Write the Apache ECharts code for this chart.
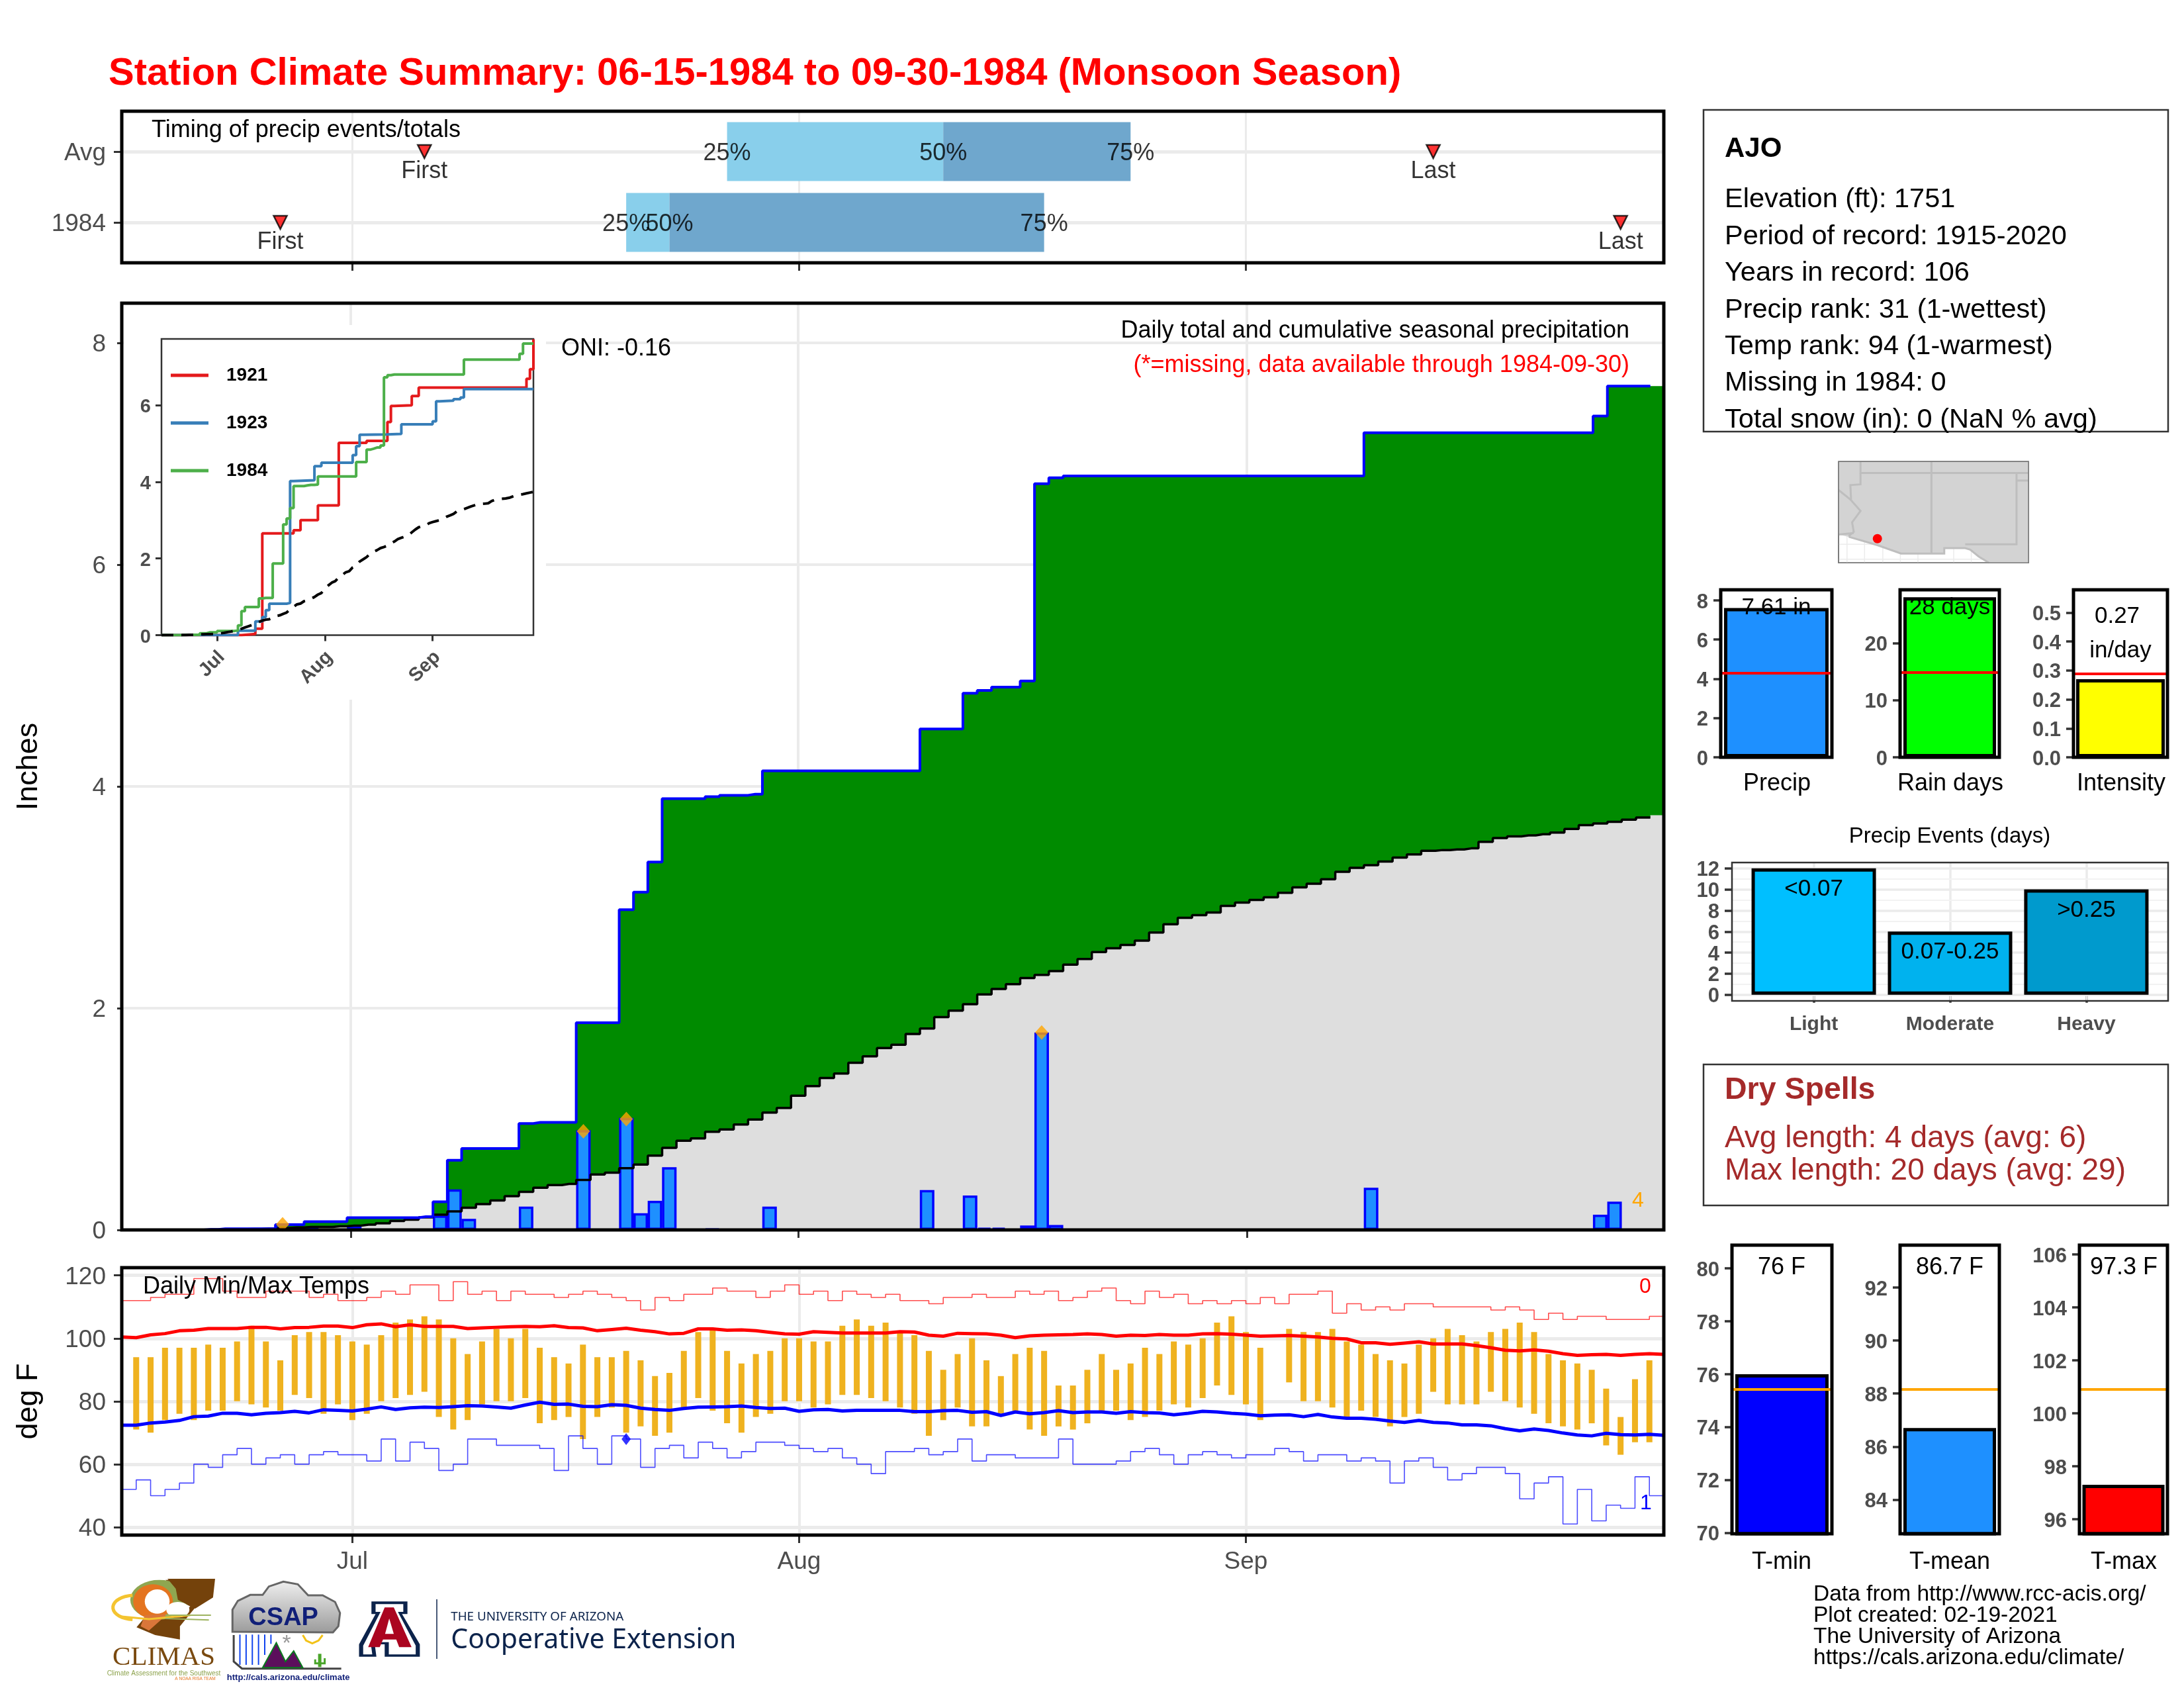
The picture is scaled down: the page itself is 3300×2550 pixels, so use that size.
<!DOCTYPE html>
<html>
<head>
<meta charset="utf-8">
<title>Station Climate Summary</title>
<script src="https://cdn.jsdelivr.net/npm/echarts@6/dist/echarts.min.js"></script>
<style>
html, body { margin: 0; padding: 0; background: #fff; }
#chart { width: 3300px; height: 2550px; }
</style>
</head>
<body>
<div id="chart"></div>
<script>
// days are counted from Jun 15 (day 0) to Sep 30 (day 107)
const monthDays = [16, 47, 78]
const monthNames = { 16: 'Jul', 47: 'Aug', 78: 'Sep' }
// the precip panel has its bars on a slightly different scale than its ticks
const mainTicks = [15.76, 47, 78.32]
const mainMin = -0.23
const mainMax = 107.44

// cumulative precip, 1984 and average
const cumPrecip = [
  0,0,0,0,0,0,.005,.01,.01,.01,
  .01,.048,.048,.075,.075,.075,.11,.11,.11,.11,
  .11,.12,.254,.628,.735,.735,.735,.735,.96,.97,
  .97,.97,1.868,1.868,1.868,2.888,3.046,3.318,3.89,3.89,
  3.89,3.907,3.92,3.92,3.93,4.14,4.14,4.14,4.14,4.14,
  4.14,4.14,4.14,4.14,4.14,4.14,4.518,4.518,4.518,4.84,
  4.865,4.895,4.895,4.95,6.73,6.784,6.8,6.8,6.8,6.8,
  6.8,6.8,6.8,6.8,6.8,6.8,6.8,6.8,6.8,6.8,
  6.8,6.8,6.8,6.8,6.8,6.8,6.8,7.19,7.19,7.19,
  7.19,7.19,7.19,7.19,7.19,7.19,7.19,7.19,7.19,7.19,
  7.19,7.19,7.19,7.34,7.61,7.61,7.61,7.61
]
const avgPrecip = [
  0,0,0,0,0,0,.003,.005,.007,.009,
  .012,.018,.022,.027,.027,.033,.039,.048,.06,.08,
  .093,.113,.137,.167,.2,.233,.266,.305,.344,.38,
  .404,.415,.45,.5,.517,.556,.59,.67,.74,.804,
  .825,.885,.906,.95,.995,1.058,1.1,1.21,1.297,1.37,
  1.41,1.507,1.566,1.64,1.67,1.767,1.816,1.919,1.977,2.036,
  2.124,2.173,2.217,2.271,2.3,2.335,2.393,2.443,2.506,2.54,
  2.57,2.609,2.682,2.756,2.815,2.839,2.863,2.922,2.952,2.976,
  3.0,3.04,3.089,3.123,3.162,3.23,3.265,3.289,3.323,3.358,
  3.387,3.42,3.426,3.431,3.441,3.5,3.534,3.549,3.558,3.568,
  3.583,3.617,3.651,3.666,3.68,3.7,3.72,3.74
]
// daily precip bars
const rainDays = [11,13,16,22,23,24,28,32,35,36,37,38,41,45,56,59,60,61,63,64,65,87,103,104]
const rainVals = [.03,.03,.035,.13,.365,.1,.21,.9,1.01,.15,.263,.565,.01,.21,.36,.31,.02,.02,.04,1.78,.045,.38,.137,.255]
const bigDays = [11,32,35,64]
const bigVals = [.05,.89,1.0,1.78]

// other years in the inset, [day, inches] at each step
const steps1921 = [[0,0],[23,.03],[27,.17],[29,2.655],[38,2.74],[40,3.0],[45,3.385],[51,5.02],[59,5.07],[65,5.56],[66,5.98],[67,6.0],[72,6.24],[74,6.46],[105,6.69],[106,6.94],[107,7.72]]
const steps1923 = [[0,0],[22,.115],[27,.36],[29,.47],[30,.65],[31,.82],[36,.84],[37,4.02],[38,4.04],[44,4.41],[46,4.5],[55,4.7],[56,4.93],[57,5.23],[58,5.24],[65,5.25],[69,5.5],[78,5.58],[79,6.1],[80,6.12],[84,6.16],[86,6.2],[87,6.42],[107,6.42]]

// timing panel
const timingRows = [2, 1]
const q25Days = [42, 35]
const q50Days = [57, 38]
const q75Days = [70, 64]
const firstDays = [21, 11]
const lastDays = [91, 104]

// daily temps
const tMaxDaily = [
  null,94,94,97,97,97,98,97,99,104,
  99,93,101,102,102,101,99,98,101,105,
  106,107,106,100,95,99,103,100,103,97,
  94,92,98,94,94,96,93,88,89,96,
  102,103,96,92,95,96,100,100,99,99,
  104,106,104,105,102,101,96,90,95,100,
  93,88,95,97,96,85,85,90,95,90,
  92,97,95,99,98,100,105,107,102,97,
  null,103,102,102,103,99,98,95,93,92,
  98,100,103,101,99,102,103,105,102,95,
  93,92,90,84,75,87,93,null
]
const tMinDaily = [
  null,71,70,74,76,74,77,77,80,79,
  78,77,82,81,76,79,74,76,80,81,
  82,83,75,71,74,79,80,80,81,73,
  74,75,68,75,78,70,72,69,70,78,
  81,77,73,70,75,76,80,80,78,79,
  82,82,81,80,78,76,69,74,78,72,
  72,76,77,71,69,72,71,73,77,77,
  74,75,77,79,78,81,85,82,79,74,
  null,86,80,80,78,75,77,75,72,75,
  76,83,79,79,79,83,80,78,76,73,
  72,71,73,66,63,67,67,null
]
const avgTmax = [
  100.4,100.2,101.1,101.5,102.4,102.6,103.1,103.1,103.1,103.5,
  103.5,103,103.4,103.5,103.9,103.9,103.4,104.3,104.6,103.7,
  104.3,103.8,103.8,103.8,103.1,103.3,103.5,103.7,103.8,103.7,
  104,103.4,103.3,102.4,102.8,103.2,102.6,102.1,101.4,101.6,
  103,103,102.6,102.7,102.4,101.9,101.4,101.3,102.1,101.9,
  101.7,101.7,101.7,101.7,102.1,102,101,100.7,101.6,101.5,
  101.4,101,100.2,100.8,101,101.1,101.2,101.4,101.2,100.7,
  101,100.9,101.2,101,101,101.4,101.5,101.3,101,100.7,
  100.8,100.9,100.7,100.4,100,99.8,98.6,98.6,98.1,98.5,
  98.9,98.2,98.2,98.2,97.7,97,96.2,96,96.3,95.9,
  95.1,94.6,94.8,94.9,94.6,94.9,95.1,94.9
]
const avgTmin = [
  72.4,72.4,73.1,73.4,73.9,75.1,75.3,76.2,76.2,75.7,
  76.2,76.4,76.8,76.3,77.3,77.1,76.9,77.5,78.2,77.4,
  77.9,78.1,78,78.3,78.6,78.5,78.2,77.8,78.8,79.7,
  79,79.1,78.4,78.3,78.9,78.7,77.8,77.4,77.1,77.7,
  78.1,78.2,78.3,78.5,78,77.7,77.8,76.8,77.3,77.4,
  76.9,77.1,77.1,77.1,77.1,76.7,76.7,77,77.1,76.5,
  76.7,75.5,76.6,76,76.4,77,76.4,76.6,76.6,76.2,
  76.7,76.4,76.3,75.7,76.2,76.8,76.6,76.2,75.9,75.4,
  75.6,75.7,75.1,75.8,75,74.6,74.6,74.3,73.7,73.3,
  73.9,73.3,73.1,72.5,72.5,72.2,71.3,70.6,71.2,70.7,
  69.9,69.3,69,69.8,69.4,69.3,69.5,69.2
]
const recMax = [
  112,112,113,114,114,119,119,115,113,113,
  115,115,115,113,114,112,112,113,115,114,
  117,117,112,118,114,115,112,115,114,114,
  113,114,115,114,113,112,109,113,112,114,
  114,116,115,115,113,115,117,114,115,112,
  115,114,113,114,112,112,111,113,113,114,
  113,113,115,114,115,112,113,115,116,112,
  111,115,113,114,111,112,111,112,111,113,
  111,114,114,115,108,111,109,110,109,111,
  111,110,110,110,110,109,110,109,106,108,
  106,107,107,106,106,106,107,107
]
const recMin = [
  52,55,50,52,54,60,59,63,65,60,
  62,63,60,63,64,63,63,61,68,61,
  67,65,58,60,68,68,66,66,66,65,
  58,69,65,60,69,68,59,65,66,62,
  67,65,62,64,67,67,66,65,64,65,
  62,60,57,64,64,65,63,64,68,61,
  63,63,62,62,62,68,60,60,60,61,
  64,65,63,60,63,64,63,62,63,63,
  65,64,61,63,63,61,62,61,54,61,
  62,59,55,57,59,59,57,49,54,56,
  41,52,42,47,46,56,50,50
]

// right side panels
const eventNames = ['Light', 'Moderate', 'Heavy']
const eventVals = [12, 6, 10]
const eventLabels = ['<0.07', '0.07-0.25', '>0.25']
const eventColors = ['#00bfff', '#00b2ee', '#009acd']
const summaryVals = [7.61, 28, 0.27]
const summaryAvgs = [4.31, 14.8, 0.292]
const summaryColors = ['#1e90ff', '#00ff00', '#ffff00']
const tempVals = [76, 86.7, 97.3]
const tempAvgs = [75.43, 88.17, 100.9]
const tempColors = ['#0000ff', '#1e90ff', '#ff0000']

const infoLines = ['Elevation (ft): 1751', 'Period of record: 1915-2020', 'Years in record: 106', 'Precip rank: 31 (1-wettest)', 'Temp rank: 94 (1-warmest)', 'Missing in 1984: 0', 'Total snow (in): 0 (NaN % avg)']
const footerLines = ['Data from http://www.rcc-acis.org/', 'Plot created: 02-19-2021', 'The University of Arizona', 'https://cals.arizona.edu/climate/']

const FONT = '"Liberation Sans"'
const GRAY = '#4d4d4d'
const pairs = vals => vals.map((v, i) => [i, v])
// y labels sit a little under their tick, padding only moves text when it isn't middle aligned
const nudge = (size, d) => ({ verticalAlign: 'bottom', padding: [0, 0, -(size / 2 + d), 0] })

const grids = [], xAxes = [], yAxes = [], series = [], graphics = []

function addGrid(g) { grids.push(Object.assign({ containLabel: false, show: true, backgroundColor: 'transparent', borderColor: '#000', borderWidth: 5, z: 6 }, g)); return grids.length - 1 }

function gridLines(idx, key, vals, width, color) {
  series.push({
    type: 'line', xAxisIndex: idx, yAxisIndex: idx, data: [], silent: true, z: 1,
    markLine: {
      z: 1, silent: true, symbol: 'none', animation: false, label: { show: false },
      lineStyle: { color: color || '#ebebeb', width: width || 3.5, type: 'solid' },
      data: vals.map(v => ({ [key]: v }))
    }
  })
}

function dayAxis(idx, showLabel, ticks, min, max) {
  xAxes.push({
    gridIndex: idx, type: 'value', min: min === undefined ? 0 : min, max: max === undefined ? 107 : max, splitLine: { show: false }, axisLine: { show: false },
    axisTick: { show: true, length: 12, lineStyle: { color: '#333', width: 3 }, customValues: ticks || monthDays },
    axisLabel: { show: showLabel, customValues: ticks || monthDays, formatter: v => monthNames[v], fontSize: 37, color: GRAY, margin: 22 }
  })
}

function valueAxis(idx, min, max, ticks, extra) {
  yAxes.push(Object.assign({
    gridIndex: idx, type: 'value', min, max, splitLine: { show: false }, axisLine: { show: false },
    axisTick: { show: true, length: 12, lineStyle: { color: '#333', width: 3 }, customValues: ticks },
    axisLabel: Object.assign({ customValues: ticks, fontSize: 37, color: GRAY, margin: 24 }, nudge(37, 3))
  }, extra))
}

function txt(text, x, y, size, opts) {
  opts = opts || {}
  graphics.push({
    type: 'text', z: 30, x: x, y: y + 3, silent: true,
    style: { text, fill: opts.color || '#000', font: (opts.weight || 'normal') + ' ' + size + 'px ' + (opts.family || FONT), align: opts.align || 'left', verticalAlign: 'middle' }
  })
}

function box(x, y, w, h) {
  graphics.push({ type: 'rect', z: 29, silent: true, shape: { x, y, width: w, height: h }, style: { fill: 'transparent', stroke: '#333', lineWidth: 2.5 } })
}

// ---------- timing panel
const timingGrid = addGrid({ left: 184, top: 168, width: 2330, height: 229 })
dayAxis(timingGrid, false)
valueAxis(timingGrid, 0.43, 2.57, timingRows, { axisLabel: Object.assign({ customValues: timingRows, formatter: v => v === 2 ? 'Avg' : '1984', fontSize: 37, color: GRAY, margin: 24 }, nudge(37, 3)) })
gridLines(timingGrid, 'xAxis', monthDays, 3)
gridLines(timingGrid, 'yAxis', timingRows, 5)
function quantileBars(from, to, color) {
  series.push({
    type: 'custom', xAxisIndex: timingGrid, yAxisIndex: timingGrid, z: 2, silent: true,
    encode: { x: [0, 1], y: 2 },
    data: timingRows.map((r, i) => [from[i], to[i], r]),
    renderItem(params, api) {
      const a = api.coord([api.value(0), api.value(2)])
      const b = api.coord([api.value(1), api.value(2)])
      const h = api.size([0, 0.83])[1]
      return { type: 'rect', shape: { x: a[0], y: a[1] - h / 2, width: b[0] - a[0], height: h }, style: { fill: color } }
    }
  })
}
quantileBars(q25Days, q50Days, '#89cfeb')
quantileBars(q50Days, q75Days, '#6fa7cd')
function timingLabels(days, name) {
  series.push({
    type: 'scatter', xAxisIndex: timingGrid, yAxisIndex: timingGrid, z: 4, symbolSize: 1, itemStyle: { color: 'transparent' }, silent: true,
    data: timingRows.map((r, i) => [days[i], r]),
    label: { show: true, position: 'inside', formatter: name, fontSize: 36, color: '#000', offset: [0, 3] }
  })
}
timingLabels(q25Days, '25%')
timingLabels(q50Days, '50%')
timingLabels(q75Days, '75%')
function timingMarks(days, name) {
  series.push({
    type: 'scatter', xAxisIndex: timingGrid, yAxisIndex: timingGrid, z: 4, symbol: 'triangle', symbolRotate: 180, symbolSize: [20, 20], silent: true,
    itemStyle: { color: '#ff0000', borderColor: '#000', borderWidth: 2.5 },
    data: timingRows.map((r, i) => [days[i], r]),
    label: { show: true, position: 'bottom', distance: 1, formatter: name, fontSize: 36, color: '#000' }
  })
}
timingMarks(firstDays, 'First')
timingMarks(lastDays, 'Last')

// ---------- main precip panel
const mainGrid = addGrid({ left: 184, top: 458, width: 2330, height: 1400 })
dayAxis(mainGrid, false, mainTicks, mainMin, mainMax)
valueAxis(mainGrid, 0, 8.358, [0, 2, 4, 6, 8], { name: 'Inches', nameLocation: 'middle', nameGap: 118, nameTextStyle: { fontSize: 45, color: '#000' } })
gridLines(mainGrid, 'xAxis', mainTicks, 4)
gridLines(mainGrid, 'yAxis', [2, 4, 6, 8], 4)
const toEdges = vals => [[mainMin, vals[0]]].concat(pairs(vals), [[mainMax, vals[107]]])
const toLineEnd = vals => pairs(vals).slice(0, 107).concat([[106.5, vals[106]]])
series.push({
  type: 'line', name: 'cumArea', xAxisIndex: mainGrid, yAxisIndex: mainGrid, z: 2, step: 'middle', showSymbol: false, silent: true,
  data: toEdges(cumPrecip), lineStyle: { width: 0 }, areaStyle: { color: '#008b00', opacity: 1 }
})
series.push({
  type: 'line', name: 'avgArea', xAxisIndex: mainGrid, yAxisIndex: mainGrid, z: 2, step: 'middle', showSymbol: false, silent: true,
  data: toEdges(avgPrecip), lineStyle: { width: 0 }, areaStyle: { color: '#dedede', opacity: 1 }
})
series.push({
  type: 'line', name: 'avgLine', xAxisIndex: mainGrid, yAxisIndex: mainGrid, z: 3, step: 'middle', showSymbol: false, silent: true,
  data: toLineEnd(avgPrecip), lineStyle: { color: '#000', width: 3.5 }
})
series.push({
  type: 'bar', xAxisIndex: mainGrid, yAxisIndex: mainGrid, z: 3, barWidth: 22, silent: true,
  data: rainDays.map((d, i) => [d, rainVals[i]]),
  itemStyle: { color: '#1e90ff', borderColor: '#0000ff', borderWidth: 3.5 }
})
series.push({
  type: 'line', name: 'cumLine', xAxisIndex: mainGrid, yAxisIndex: mainGrid, z: 4, step: 'middle', showSymbol: false, silent: true,
  data: toLineEnd(cumPrecip), lineStyle: { color: '#0000ff', width: 4 }
})
series.push({
  type: 'scatter', xAxisIndex: mainGrid, yAxisIndex: mainGrid, z: 5, symbol: 'diamond', symbolSize: [20, 22], silent: true,
  data: bigDays.map((d, i) => [d, bigVals[i]]), itemStyle: { color: '#ffa500' }
})

// white patch behind the inset
graphics.push({ type: 'rect', z: 10, silent: true, shape: { x: 187, y: 491, width: 638, height: 566 }, style: { fill: '#fff' } })

// ---------- inset
const insetGrid = addGrid({ left: 244, top: 512, width: 562, height: 447.5, borderColor: '#333', borderWidth: 2.5, z: 11 })
xAxes.push({
  gridIndex: insetGrid, type: 'value', min: 0, max: 107, z: 12, splitLine: { show: false }, axisLine: { show: false },
  axisTick: { show: true, length: 9, lineStyle: { color: '#333', width: 3 }, customValues: monthDays },
  axisLabel: { customValues: monthDays, formatter: v => monthNames[v], rotate: 45, fontSize: 29, fontWeight: 'bold', color: GRAY, margin: 36, padding: [0, -10, 0, 0] }
})
valueAxis(insetGrid, 0, 7.73, [0, 2, 4, 6], {
  z: 12,
  axisTick: { show: true, length: 9, lineStyle: { color: '#333', width: 3 }, customValues: [0, 2, 4, 6] },
  axisLabel: Object.assign({ customValues: [0, 2, 4, 6], fontSize: 29, fontWeight: 'bold', color: GRAY, margin: 16 }, nudge(29, 3))
})
function insetLine(name, data, color) {
  series.push({ type: 'line', name, xAxisIndex: insetGrid, yAxisIndex: insetGrid, z: 13, step: 'end', showSymbol: false, silent: true, data, lineStyle: { color, width: 4 }, itemStyle: { color } })
}
insetLine('1921', steps1921, '#e41a1c')
insetLine('1923', steps1923, '#377eb8')
insetLine('1984', pairs(cumPrecip), '#4daf4a')
series.push({
  type: 'line', name: 'insetAvg', xAxisIndex: insetGrid, yAxisIndex: insetGrid, z: 14, showSymbol: false, silent: true,
  data: pairs(avgPrecip), lineStyle: { color: '#000', width: 4, type: [18, 12] }
})

// ---------- temps panel
const tempsGrid = addGrid({ left: 184, top: 1915, width: 2330, height: 404 })
dayAxis(tempsGrid, true)
valueAxis(tempsGrid, 37.47, 122.46, [40, 60, 80, 100, 120], { name: 'deg F', nameLocation: 'middle', nameGap: 118, nameTextStyle: { fontSize: 45, color: '#000' } })
gridLines(tempsGrid, 'xAxis', monthDays, 4)
gridLines(tempsGrid, 'yAxis', [40, 60, 80, 100, 120], 5)
series.push({
  type: 'custom', xAxisIndex: tempsGrid, yAxisIndex: tempsGrid, z: 2, silent: true,
  encode: { x: 0, y: [1, 2] },
  data: tMaxDaily.map((v, i) => [i, tMinDaily[i], v]).filter(r => r[2] !== null),
  renderItem(params, api) {
    const a = api.coord([api.value(0), api.value(1)])
    const b = api.coord([api.value(0), api.value(2)])
    return { type: 'rect', shape: { x: a[0] - 4.5, y: b[1], width: 9, height: a[1] - b[1] }, style: { fill: '#efb21f' } }
  }
})
function tempLine(vals, color, width, step, opacity) {
  series.push({ type: 'line', xAxisIndex: tempsGrid, yAxisIndex: tempsGrid, z: 3, step, showSymbol: false, silent: true, data: pairs(vals), lineStyle: { color, width, opacity } })
}
tempLine(recMax, '#ff0000', 1.6, 'end', 0.7)
tempLine(recMin, '#0000ff', 1.6, 'end', 0.7)
tempLine(avgTmax, '#ff0000', 5, false, 1)
tempLine(avgTmin, '#0000ff', 5, false, 1)
series.push({
  type: 'scatter', xAxisIndex: tempsGrid, yAxisIndex: tempsGrid, z: 5, symbol: 'diamond', symbolSize: [14, 18], silent: true,
  data: [[35, 68]], itemStyle: { color: '#0000ff' }
})

// ---------- small summary bars
function miniBar(g, min, max, ticks, val, avg, color, barW, avgColor) {
  const idx = addGrid(g)
  xAxes.push({ gridIndex: idx, type: 'category', data: [''], axisLine: { show: false }, axisTick: { show: false }, axisLabel: { show: false } })
  valueAxis(idx, min, max, ticks, {
    axisTick: { show: true, length: 11, lineStyle: { color: '#333', width: 3.5 }, customValues: ticks },
    axisLabel: Object.assign({ customValues: ticks, fontSize: 31, fontWeight: 'bold', color: GRAY, margin: 19, formatter: v => g.fixed ? v.toFixed(1) : String(v) }, nudge(31, 3))
  })
  series.push({
    type: 'bar', xAxisIndex: idx, yAxisIndex: idx, z: 3, barWidth: barW, silent: true, data: [val],
    itemStyle: { color, borderColor: '#000', borderWidth: 5 },
    markLine: { z: 5, silent: true, symbol: 'none', animation: false, label: { show: false }, lineStyle: { color: avgColor, width: 4, type: 'solid' }, data: [{ yAxis: avg }] }
  })
}
miniBar({ left: 2600, top: 891, width: 168, height: 253 }, 0, 8.54, [0, 2, 4, 6, 8], summaryVals[0], summaryAvgs[0], summaryColors[0], 158, '#ff0000')
miniBar({ left: 2871, top: 891, width: 150, height: 253 }, 0, 29.3, [0, 10, 20], summaryVals[1], summaryAvgs[1], summaryColors[1], 140, '#ff0000')
miniBar({ left: 3133, top: 891, width: 142, height: 253, fixed: true }, 0, 0.579, [0, .1, .2, .3, .4, .5], summaryVals[2], summaryAvgs[2], summaryColors[2], 134, '#ff0000')
miniBar({ left: 2617, top: 1881, width: 151, height: 436 }, 69.97, 80.88, [70, 72, 74, 76, 78, 80], tempVals[0], tempAvgs[0], tempColors[0], 141, '#ffa500')
miniBar({ left: 2871, top: 1881, width: 150, height: 436 }, 82.71, 93.6, [84, 86, 88, 90, 92], tempVals[1], tempAvgs[1], tempColors[1], 140, '#ffa500')
miniBar({ left: 3142, top: 1881, width: 133, height: 436 }, 95.45, 106.35, [96, 98, 100, 102, 104, 106], tempVals[2], tempAvgs[2], tempColors[2], 124, '#ffa500')

// ---------- precip events
const evGrid = addGrid({ left: 2617, top: 1303, width: 659, height: 209, borderColor: '#333', borderWidth: 2.5 })
xAxes.push({
  gridIndex: evGrid, type: 'value', min: 0.4, max: 3.6, splitLine: { show: false }, axisLine: { show: false },
  axisTick: { show: true, length: 12, lineStyle: { color: '#333', width: 3.5 }, customValues: [1, 2, 3] },
  axisLabel: { customValues: [1, 2, 3], formatter: v => eventNames[v - 1], fontSize: 30, fontWeight: 'bold', color: GRAY, margin: 21 }
})
valueAxis(evGrid, -0.58, 12.55, [0, 2, 4, 6, 8, 10, 12], {
  axisTick: { show: true, length: 11, lineStyle: { color: '#333', width: 3.5 }, customValues: [0, 2, 4, 6, 8, 10, 12] },
  axisLabel: Object.assign({ customValues: [0, 2, 4, 6, 8, 10, 12], fontSize: 31, fontWeight: 'bold', color: GRAY, margin: 19 }, nudge(31, 3))
})
gridLines(evGrid, 'xAxis', [1, 2, 3], 3.5)
gridLines(evGrid, 'yAxis', [0, 2, 4, 6, 8, 10, 12], 3.5)
gridLines(evGrid, 'yAxis', [1, 3, 5, 7, 9, 11], 2, '#f2f2f2')
series.push({
  type: 'bar', xAxisIndex: evGrid, yAxisIndex: evGrid, z: 3, barWidth: 188, silent: true,
  data: eventVals.map((v, i) => ({ value: [i + 1, v], itemStyle: { color: eventColors[i] }, label: { formatter: eventLabels[i] } })),
  itemStyle: { borderColor: '#000', borderWidth: 5 },
  label: { show: true, position: 'insideTop', distance: 14, fontSize: 35, color: '#000' }
})

// ---------- legend for inset is set in the option below, now the plain text
txt('Station Climate Summary: 06-15-1984 to 09-30-1984 (Monsoon Season)', 164, 109, 58, { weight: 'bold', color: '#ff0000' })
txt('Timing of precip events/totals', 229, 194, 36)
txt('Daily total and cumulative seasonal precipitation', 2462, 497, 36, { align: 'right' })
txt('(*=missing, data available through 1984-09-30)', 2462, 549, 36, { align: 'right', color: '#ff0000' })
txt('ONI: -0.16', 848, 524, 36)
txt('4', 2475, 1811, 32, { color: '#ffa500', align: 'center' })
txt('Daily Min/Max Temps', 216, 1941, 36)
txt('0', 2486, 1941, 32, { color: '#ff0000', align: 'center' })
txt('1', 2487, 2268, 32, { color: '#0000ff', align: 'center' })

box(2574, 166, 702, 486)
txt('AJO', 2606, 222, 42, { weight: 'bold' })
infoLines.forEach((l, i) => txt(l, 2606, 299 + i * 55.4, 41.5))

txt('7.61 in', 2684, 915, 35, { align: 'center' })
txt('28 days', 2946, 915, 35, { align: 'center' })
txt('0.27', 3199, 928, 35, { align: 'center' })
txt('in/day', 3204, 980, 35, { align: 'center' })
txt('Precip', 2685, 1181, 36, { align: 'center' })
txt('Rain days', 2947, 1181, 36, { align: 'center' })
txt('Intensity', 3205, 1181, 36, { align: 'center' })
txt('Precip Events (days)', 2946, 1261, 33, { align: 'center' })

box(2574, 1608, 702, 213)
txt('Dry Spells', 2606, 1644, 46.5, { weight: 'bold', color: '#a52a2a' })
txt('Avg length: 4 days (avg: 6)', 2606, 1717, 46, { color: '#a52a2a' })
txt('Max length: 20 days (avg: 29)', 2606, 1766, 46, { color: '#a52a2a' })

txt('76 F', 2692, 1912, 36, { align: 'center' })
txt('86.7 F', 2946, 1912, 36, { align: 'center' })
txt('97.3 F', 3209, 1912, 36, { align: 'center' })
txt('T-min', 2692, 2357, 36, { align: 'center' })
txt('T-mean', 2946, 2357, 36, { align: 'center' })
txt('T-max', 3209, 2357, 36, { align: 'center' })
footerLines.forEach((l, i) => txt(l, 2740, 2406 + i * 31.8, 33.5))

// ---------- locator map, drawn on the 3x crop scale
const mx = v => 2500 + v / 1.96
const my = v => 680 + v / 1.742
function shape(type, pts, style, z) {
  graphics.push({ type, z: z || 25, silent: true, shape: { points: pts.map(p => [mx(p[0]), my(p[1])]) }, style })
}
graphics.push({ type: 'rect', z: 24, silent: true, shape: { x: mx(545), y: my(30), width: 287, height: 153 }, style: { fill: '#fff', stroke: '#666', lineWidth: 1.5 } })
;[570, 622, 676, 728, 780, 886, 938].forEach(v => shape('polyline', [[v, 225], [v, 296]], { stroke: '#ececec', lineWidth: 1.5, fill: null }))
;[248, 287].forEach(v => shape('polyline', [[545, v], [1108, v]], { stroke: '#ececec', lineWidth: 1.5, fill: null }))
shape('polygon', [[545, 30], [1108, 30], [1108, 296], [990, 296], [960, 280], [935, 262], [920, 258], [858, 258], [858, 272], [730, 272], [660, 250], [575, 228], [545, 222]], { fill: '#d3d3d3' }, 26)
const stateLines = [
  [[610, 30], [610, 60], [1108, 60]], [[820, 30], [820, 272]], [[1072, 60], [1072, 248], [920, 248]], [[1072, 80], [1108, 80]],
  [[545, 105], [580, 130], [610, 160], [585, 190], [590, 215], [575, 226]], [[610, 60], [610, 90], [580, 92], [582, 130]],
  [[575, 228], [660, 250], [730, 272], [858, 272], [858, 258], [920, 258], [935, 262], [960, 280], [990, 296]], [[545, 222], [590, 218]]
]
stateLines.forEach(l => shape('polyline', l, { stroke: '#bebebe', lineWidth: 3, fill: null }, 27))
graphics.push({ type: 'rect', z: 27, silent: true, shape: { x: mx(545), y: my(30), width: 287, height: 153 }, style: { fill: 'transparent', stroke: '#777', lineWidth: 1.5 } })
graphics.push({ type: 'circle', z: 28, silent: true, shape: { cx: mx(660), cy: my(233), r: 7 }, style: { fill: '#ff0000' } })

// ---------- logos, drawn on the 3x crop scale
const lx = v => 150 + v / 1.6
const ly = v => 2360 + v / 3
function logo(type, pts, style) {
  graphics.push({ type, z: 25, silent: true, shape: { points: pts.map(p => [lx(p[0]), ly(p[1])]) }, style })
}
function oval(cx, cy, rx, ry, from, to) {
  const pts = []
  for (let a = from || 0; a <= (to === undefined ? 360 : to); a += 10) pts.push([cx + rx * Math.cos(a * Math.PI / 180), cy + ry * Math.sin(a * Math.PI / 180)])
  return pts
}
// CLIMAS
logo('polygon', [[160, 80], [275, 80], [270, 160], [230, 210], [195, 290], [195, 350], [135, 330], [90, 295], [110, 250], [195, 240], [220, 200], [190, 170], [185, 120]], { fill: '#74420b' })
logo('polygon', oval(145, 170, 70, 90), { fill: '#8fa650' })
logo('polygon', [[165, 75], [280, 75], [275, 160], [232, 210], [190, 170], [185, 120]], { fill: '#74420b' })
logo('polygon', oval(130, 178, 48, 78), { fill: '#e4741f' })
logo('polygon', oval(140, 178, 30, 55), { fill: '#fff' })
logo('polygon', oval(190, 215, 28, 35), { fill: '#fff' })
logo('polygon', [[110, 240], [165, 235], [120, 310], [100, 290]], { fill: '#d9763a' })
logo('polyline', oval(85, 205, 52, 55, 95, 265), { stroke: '#f4c430', lineWidth: 5, fill: null })
logo('polyline', [[50, 245], [120, 258], [220, 240]], { stroke: '#f4c430', lineWidth: 3, fill: null })
logo('polyline', [[160, 240], [270, 240]], { stroke: '#9db35f', lineWidth: 2, fill: null })
logo('polyline', [[160, 255], [265, 262]], { stroke: '#9db35f', lineWidth: 2, fill: null })
txt('CLIMAS', lx(156), ly(425), 41, { family: '"Liberation Serif"', color: '#7a4a10', align: 'center' })
txt('Climate Assessment for the Southwest', lx(156), ly(495), 10, { color: '#8da34d', align: 'center' })
txt('A NOAA RISA TEAM', lx(232), ly(521), 6.5, { color: '#e4741f', align: 'center' })
// CSAP
logo('polygon', [[322, 315], [322, 215], [335, 175], [365, 148], [395, 148], [410, 110], [445, 88], [480, 100], [505, 150], [540, 150], [570, 180], [582, 230], [578, 290], [565, 318]], {
  fill: { type: 'linear', x: 0, y: 0, x2: 0, y2: 1, colorStops: [{ offset: 0, color: '#f0f0f0' }, { offset: 1, color: '#9a9a9a' }] }, stroke: '#666', lineWidth: 3
})
txt('CSAP', lx(445), ly(245), 38, { weight: 'bold', color: '#101f78', align: 'center' })
;[340, 355, 370, 385, 400, 415].forEach((v, i) => logo('polyline', [[v, 328], [v, i < 4 ? 465 : 420 - (i - 4) * 50]], { stroke: '#1144ee', lineWidth: 2, fill: null }))
logo('polyline', [[325, 330], [325, 450], [345, 482], [585, 482]], { stroke: '#444', lineWidth: 3, fill: null })
logo('polygon', [[395, 478], [428, 365], [450, 450], [470, 402], [492, 478]], { fill: '#5c0f5c', stroke: '#0a7a1e', lineWidth: 2 })
logo('polyline', [[533, 415], [533, 475]], { stroke: '#4aa52a', lineWidth: 5, fill: null })
logo('polyline', [[522, 440], [522, 458], [545, 458], [545, 435]], { stroke: '#4aa52a', lineWidth: 3, fill: null })
logo('polyline', [[492, 330], [500, 355], [515, 368], [530, 355], [540, 330]], { stroke: '#f2c218', lineWidth: 3, fill: null })
txt('*', lx(453), ly(362), 34, { color: '#999', align: 'center' })
txt('http://cals.arizona.edu/climate', lx(457), ly(513), 13, { weight: 'bold', color: '#101f78', align: 'center' })
// block A
logo('polygon', [[658, 178], [745, 178], [745, 235], [732, 235], [775, 372], [775, 428], [690, 428], [690, 372], [666, 372], [670, 428], [628, 428], [628, 372], [668, 235], [658, 235]], { fill: '#0c234b' })
logo('polygon', [[668, 190], [735, 190], [735, 225], [722, 225], [765, 378], [765, 418], [700, 418], [700, 362], [656, 362], [660, 418], [638, 418], [638, 378], [680, 225], [668, 225]], { fill: '#fff' })
logo('polygon', [[690, 205], [712, 205], [755, 385], [725, 385], [718, 350], [686, 350], [678, 385], [650, 385]], { fill: '#ab0520' })
logo('polygon', [[701, 255], [691, 325], [712, 325]], { fill: '#fff' })
logo('polyline', [[816, 168], [816, 438]], { stroke: '#0c234b', lineWidth: 1.5, fill: null })
txt('THE UNIVERSITY OF ARIZONA', lx(850), ly(240), 18.8, { family: '"Noto Sans"', color: '#0c234b' })
txt('Cooperative Extension', lx(850), ly(345), 41, { family: '"Noto Sans"', color: '#0c234b' })

const option = {
  animation: false,
  textStyle: { fontFamily: 'Liberation Sans' },
  grid: grids,
  xAxis: xAxes,
  yAxis: yAxes,
  series: series,
  graphic: { elements: graphics },
  legend: {
    data: ['1921', '1923', '1984'], orient: 'vertical', left: 253, top: 548, z: 15, selectedMode: false,
    icon: 'rect', itemWidth: 57, itemHeight: 5, itemGap: 44,
    textStyle: { fontSize: 28, fontWeight: 'bold', color: '#000', padding: [0, 0, 0, 22] }
  }
}

const myChart = echarts.init(document.getElementById('chart'), null, { renderer: 'canvas' })
myChart.setOption(option)
</script>
</body>
</html>
